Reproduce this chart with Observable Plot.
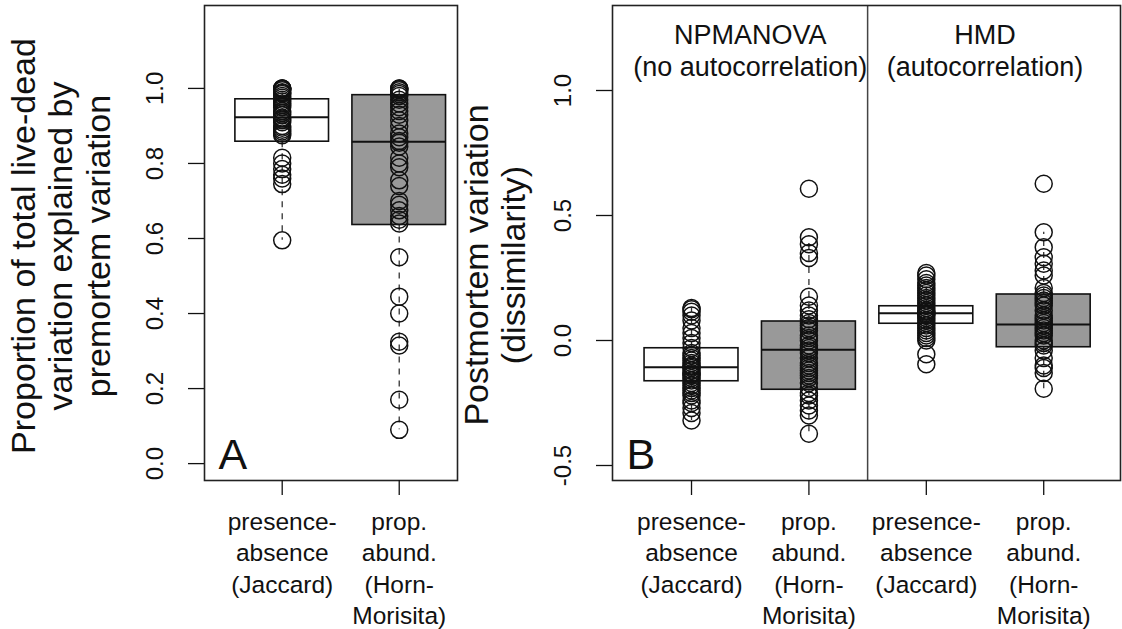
<!DOCTYPE html>
<html><head><meta charset="utf-8">
<script src="https://cdn.jsdelivr.net/npm/d3@7"></script>
<script src="https://cdn.jsdelivr.net/npm/@observablehq/plot@0.6"></script>
<style>
body{margin:0;background:#fff;}
#wrap{position:relative;width:1122px;height:629px;overflow:hidden;background:#fff;}
#wrap svg{position:absolute;top:0;}
</style></head><body><div id="wrap"></div>
<script>
// ---------- Panel A data ----------
const groupsA = ["presence-absence (Jaccard)", "prop. abund. (Horn-Morisita)"];
const metricA = ["presence-absence", "prop. abund."];
const catLabelsA = ["presence-\nabsence\n(Jaccard)", "prop.\nabund.\n(Horn-\nMorisita)"];
const aQ1 = [0.858, 0.636];
const aMedian = [0.923, 0.858];
const aQ3 = [0.971, 0.982];
const aWhiskLo = [0.595, 0.09];
const aWhiskHi = [1.0, 1.0];
const aPointsJaccard = [1.0, 1.0, 1.0, 0.998, 0.995, 0.99, 0.988, 0.985, 0.98, 0.975, 0.97, 0.965, 0.96, 0.955, 0.95, 0.94, 0.935, 0.93, 0.92, 0.915, 0.91, 0.90, 0.895, 0.89, 0.885, 0.88, 0.875, 0.815, 0.80, 0.785, 0.77, 0.76, 0.745, 0.595];
const aPointsHorn = [1.0, 1.0, 0.998, 0.995, 0.99, 0.985, 0.98, 0.97, 0.96, 0.95, 0.94, 0.93, 0.915, 0.90, 0.88, 0.87, 0.86, 0.855, 0.845, 0.815, 0.80, 0.79, 0.755, 0.74, 0.70, 0.69, 0.675, 0.66, 0.65, 0.64, 0.55, 0.445, 0.40, 0.325, 0.315, 0.17, 0.09];
const yTicksA = [0, 0.2, 0.4, 0.6, 0.8, 1.0];
const yTickLabelsA = ["0.0", "0.2", "0.4", "0.6", "0.8", "1.0"];
const yTitleA = "Proportion of total live-dead\nvariation explained by\npremortem variation";

// ---------- Panel B data ----------
const groupsB = ["NPMANOVA presence-absence", "NPMANOVA prop. abund.", "HMD presence-absence", "HMD prop. abund."];
const metricB = ["presence-absence", "prop. abund.", "presence-absence", "prop. abund."];
const catLabelsB = ["presence-\nabsence\n(Jaccard)", "prop.\nabund.\n(Horn-\nMorisita)", "presence-\nabsence\n(Jaccard)", "prop.\nabund.\n(Horn-\nMorisita)"];
const methodTitles = ["NPMANOVA\n(no autocorrelation)", "HMD\n(autocorrelation)"];
const methodCenters = [1.5, 3.5];
const methodDivider = [2.5];
const bQ1 = [-0.163, -0.197, 0.067, -0.027];
const bMedian = [-0.107, -0.037, 0.109, 0.064];
const bQ3 = [-0.031, 0.076, 0.137, 0.184];
const bWhiskLo = [-0.32, -0.373, 0.0, -0.193];
const bWhiskHi = [0.13, 0.413, 0.23, 0.433];
const bPointsNpJac = [0.13, 0.125, 0.115, 0.10, 0.08, 0.05, 0.03, 0.01, -0.01, -0.03, -0.05, -0.06, -0.07, -0.08, -0.09, -0.10, -0.105, -0.11, -0.12, -0.13, -0.135, -0.14, -0.15, -0.16, -0.17, -0.18, -0.19, -0.20, -0.21, -0.22, -0.24, -0.25, -0.27, -0.29, -0.32];
const bPointsNpHorn = [0.607, 0.413, 0.385, 0.35, 0.33, 0.175, 0.14, 0.12, 0.10, 0.085, 0.07, 0.06, 0.05, 0.04, 0.02, 0.01, 0.0, -0.02, -0.03, -0.04, -0.05, -0.07, -0.09, -0.10, -0.11, -0.12, -0.13, -0.14, -0.15, -0.17, -0.19, -0.21, -0.22, -0.24, -0.26, -0.28, -0.30, -0.373];
const bPointsHmdJac = [0.27, 0.26, 0.245, 0.23, 0.22, 0.21, 0.20, 0.19, 0.18, 0.17, 0.16, 0.15, 0.14, 0.13, 0.12, 0.115, 0.11, 0.105, 0.10, 0.09, 0.08, 0.07, 0.06, 0.05, 0.04, 0.03, 0.02, 0.01, 0.0, -0.055, -0.095];
const bPointsHmdHorn = [0.627, 0.433, 0.373, 0.333, 0.307, 0.28, 0.26, 0.21, 0.19, 0.18, 0.17, 0.16, 0.15, 0.14, 0.12, 0.10, 0.09, 0.08, 0.07, 0.06, 0.05, 0.04, 0.03, 0.02, 0.0, -0.01, -0.02, -0.04, -0.07, -0.10, -0.11, -0.13, -0.193];
const yTicksB = [-0.5, 0, 0.5, 1.0];
const yTickLabelsB = ["-0.5", "0.0", "0.5", "1.0"];
const yTitleB = "Postmortem variation\n(dissimilarity)";

const FONT = "'Liberation Sans', Arial, Helvetica, sans-serif";

function panel(o) {
  const boxes = o.groups.map((g, i) => ({
    pos: i + 1, metric: o.metric[i], q1: o.q1[i], med: o.med[i], q3: o.q3[i], wlo: o.wlo[i], whi: o.whi[i]
  }));
  const dots = o.points.flatMap((arr, i) => arr.map(v => ({pos: i + 1, v})));
  const posTicks = o.groups.map((g, i) => i + 1);
  return Plot.plot({
    width: o.width, height: 629,
    marginLeft: o.marginLeft, marginRight: o.marginRight, marginTop: 5, marginBottom: 149,
    x: {type: "linear", domain: o.xDomain, axis: null, label: null},
    y: {type: "linear", domain: o.yDomain, axis: null, label: null},
    color: {domain: ["presence-absence", "prop. abund."], range: ["#ffffff", "#999999"]},
    style: {fontFamily: FONT, background: "transparent", color: "#111", overflow: "visible"},
    marks: [
      ...(o.before || []),
      Plot.ruleX(boxes, {x: "pos", y1: "q1", y2: "wlo", stroke: "#333", strokeWidth: 1.3, strokeDasharray: "6,6"}),
      Plot.ruleX(boxes, {x: "pos", y1: "q3", y2: "whi", stroke: "#333", strokeWidth: 1.3, strokeDasharray: "6,6"}),
      Plot.rect(boxes, {x1: d => d.pos - 0.4, x2: d => d.pos + 0.4, y1: "q1", y2: "q3", fill: "metric", stroke: "#111", strokeWidth: 1.6}),
      Plot.ruleY(boxes, {y: "med", x1: d => d.pos - 0.4, x2: d => d.pos + 0.4, stroke: "#111", strokeWidth: 2}),
      Plot.dot(dots, {x: "pos", y: "v", r: 8.5, stroke: "#111", strokeWidth: 1.5, fill: "none"}),
      Plot.frame({stroke: "#222", strokeWidth: 1.6}),
      Plot.axisY({anchor: "left", label: null, ticks: o.yTicks, tickFormat: d => o.yTickLabels[o.yTicks.indexOf(d)],
        tickSize: 16, tickRotate: -90, tickPadding: 26, fontSize: 24, stroke: "#111", strokeWidth: 1.3}),
      Plot.axisX({anchor: "bottom", label: null, ticks: posTicks, tickFormat: d => o.catLabels[d - 1],
        tickSize: 15, tickPadding: 12, fontSize: 24.5, lineHeight: 1.286, stroke: "#111", strokeWidth: 1.3}),
      Plot.text([o.yTitle], {text: d => d, frameAnchor: "left", dx: o.yTitleDx, dy: o.yTitleDy, rotate: -90,
        fontSize: 34, lineHeight: 1.1, textAnchor: "middle", lineAnchor: "middle", fill: "#111"}),
      Plot.text([o.letter], {text: d => d, frameAnchor: "bottom-left", dx: 14, dy: -12,
        fontSize: 43, textAnchor: "start", lineAnchor: "bottom", fill: "#111"}),
      ...(o.after || [])
    ]
  });
}

const svgA = panel({
  groups: groupsA, metric: metricA, q1: aQ1, med: aMedian, q3: aQ3, wlo: aWhiskLo, whi: aWhiskHi,
  points: [aPointsJaccard, aPointsHorn], catLabels: catLabelsA,
  yTicks: yTicksA, yTickLabels: yTickLabelsA, yTitle: yTitleA, yTitleDx: -144, yTitleDy: 3, letter: "A",
  width: 470, marginLeft: 204, marginRight: 13,
  xDomain: [0.336, 2.498], yDomain: [-0.045, 1.221]
});

const svgB = panel({
  groups: groupsB, metric: metricB, q1: bQ1, med: bMedian, q3: bQ3, wlo: bWhiskLo, whi: bWhiskHi,
  points: [bPointsNpJac, bPointsNpHorn, bPointsHmdJac, bPointsHmdHorn], catLabels: catLabelsB,
  yTicks: yTicksB, yTickLabels: yTickLabelsB, yTitle: yTitleB, yTitleDx: -118, yTitleDy: 22, letter: "B",
  width: 652, marginLeft: 142, marginRight: 2,
  xDomain: [0.327, 4.654], yDomain: [-0.56, 1.34],
  before: [Plot.ruleX(methodDivider, {stroke: "#444", strokeWidth: 1.5})],
  after: [Plot.text(methodTitles, {x: (d, i) => methodCenters[i], text: d => d, frameAnchor: "top", dy: 15,
    lineAnchor: "top", fontSize: 27, lineHeight: 1.2, textAnchor: "middle", fill: "#111"})]
});

const wrap = document.getElementById("wrap");
svgA.style.left = "0px";
svgB.style.left = "470px";
wrap.appendChild(svgA);
wrap.appendChild(svgB);
</script>
</body></html>
